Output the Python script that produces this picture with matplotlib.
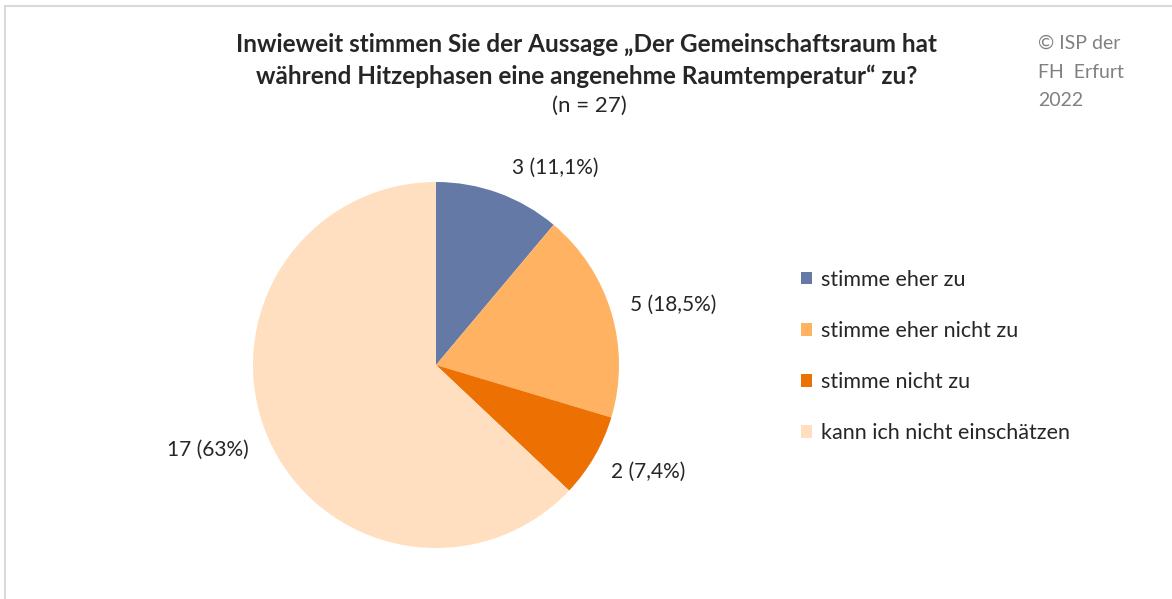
import matplotlib.pyplot as plt
from matplotlib.patches import Rectangle

# data
categories = ['stimme eher zu', 'stimme eher nicht zu', 'stimme nicht zu', 'kann ich nicht einschätzen']
counts = [3, 5, 2, 17]
pct_labels = ['11,1%', '18,5%', '7,4%', '63%']
colors = ['#6479A5', '#FFB262', '#ED7102', '#FFDFBF']
# label offsets (in pie radii) as placed in the original
label_pos = [(0.65, 1.077), (1.295, 0.328), (1.158, -0.585), (-1.246, -0.464)]

W, H = 1172, 599
plt.rcParams['font.family'] = ['Lato', 'DejaVu Sans']
fig = plt.figure(figsize=(W / 100, H / 100), dpi=100)

# thin frame (cropped at right and bottom)
fig.add_artist(Rectangle((5 / W, -0.1), 1.2, 1.1 - 6 / H, transform=fig.transFigure,
                         fill=False, edgecolor='#d9d9d9', linewidth=1.5))

cx, cy, r = 436, 365, 183
ax = fig.add_axes([(cx - r) / W, (H - cy - r) / H, 2 * r / W, 2 * r / H])
wedges, _ = ax.pie(counts, colors=colors, startangle=90, counterclock=False,
                   wedgeprops=dict(linewidth=0))
ax.set_xlim(-1, 1)
ax.set_ylim(-1, 1)
ax.set_aspect('equal')

for (x, y), n, p in zip(label_pos, counts, pct_labels):
    ax.text(x, y, f'{n} ({p})', ha='center', va='center', fontsize=15,
            color='#262626', clip_on=False)

# title
fig.text(587 / W, 1 - 44 / H, 'Inwieweit stimmen Sie der Aussage „Der Gemeinschaftsraum hat',
         ha='center', va='center', fontsize=17.5, fontweight='bold', color='#262626')
fig.text(587 / W, 1 - 76 / H, 'während Hitzephasen eine angenehme Raumtemperatur“ zu?',
         ha='center', va='center', fontsize=17.5, fontweight='bold', color='#262626')
fig.text(589 / W, 1 - 106 / H, '(n = 27)', ha='center', va='center', fontsize=16,
         color='#262626')

# copyright
for i, line in enumerate(['© ISP der', 'FH  Erfurt', '2022']):
    fig.text(1038 / W, 1 - (43 + 29 * i) / H, line, ha='left', va='center',
             fontsize=14, color='#808080')

# legend
leg = fig.legend(wedges, categories, loc='upper left', bbox_to_anchor=(792 / W, 1 - 261 / H),
                 frameon=False, fontsize=15.5, handlelength=0.55, handleheight=0.55,
                 handletextpad=0.4, labelspacing=1.45, borderaxespad=0)
for t in leg.get_texts():
    t.set_color('#262626')

fig.savefig('out.png', dpi=100, facecolor='white')
